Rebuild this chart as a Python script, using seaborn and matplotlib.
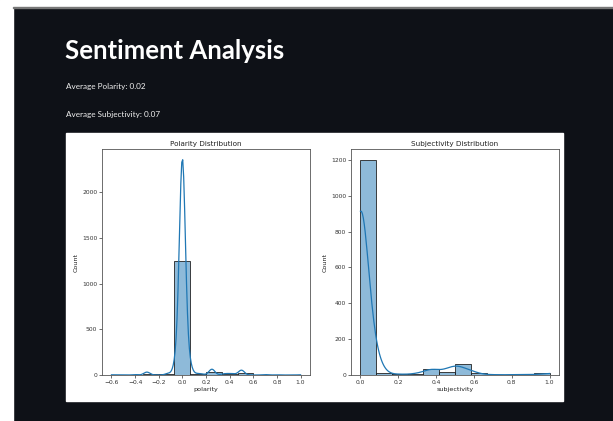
import numpy as np
import pandas as pd
import matplotlib
matplotlib.use("Agg")
import matplotlib.pyplot as plt
from matplotlib.patches import Rectangle
import seaborn as sns

# ---- data (distinct score values and how many rows have them) ----
polarity_values = [-0.6, -0.4, -0.3, -0.12, -0.05, 0.0, 0.05, 0.08, 0.12, 0.16,
                   0.25, 0.35, 0.39, 0.43, 0.5, 0.7, 0.8, 1.0]
polarity_counts = [1, 2, 15, 8, 73, 1100, 70, 5, 5, 5,
                   30, 5, 5, 5, 25, 2, 1, 1]

subjectivity_values = [0.0, 0.05, 0.075, 0.1, 0.2, 0.3, 0.375, 0.45, 0.5, 0.55, 0.6,
                       0.7, 0.8, 0.9, 1.0]
subjectivity_counts = [1065, 70, 65, 10, 5, 8, 33, 18, 40, 23, 12,
                       2, 2, 3, 10]

title_text = "Sentiment Analysis"
avg_polarity_text = "Average Polarity: 0.02"
avg_subjectivity_text = "Average Subjectivity: 0.07"

polarity = pd.Series(np.repeat(polarity_values, polarity_counts), name="polarity")
subjectivity = pd.Series(np.repeat(subjectivity_values, subjectivity_counts), name="subjectivity")

W, H = 613, 421
BG = "#0e1117"
fig = plt.figure(figsize=(W / 100, H / 100), dpi=100, facecolor=BG)

def fx(px):
    return px / W

def fy(py):
    return 1 - py / H

# white screenshot margins
fig.patches.append(Rectangle((0, 0), fx(13), 1, transform=fig.transFigure, color="white", zorder=-5))
fig.patches.append(Rectangle((0, fy(7)), 1, 7 / H, transform=fig.transFigure, color="white", zorder=-5))
fig.patches.append(Rectangle((fx(13), fy(8)), 1, 1.2 / H, transform=fig.transFigure, color="#777777", zorder=-5))

# embedded figure panel
fig.patches.append(Rectangle((fx(66), fy(401)), fx(563) - fx(66), (401 - 133) / H,
                             transform=fig.transFigure, color="white", zorder=-5))

title_fam = ["Lato", "DejaVu Sans"]
fig.text(fx(65), fy(59), title_text, color="white", fontsize=18.5, fontweight="bold",
         family=title_fam, va="baseline", ha="left")
fig.text(fx(66), fy(89), avg_polarity_text, color="#f0f0f0", fontsize=5.9,
         family=title_fam, va="baseline", ha="left")
fig.text(fx(66), fy(117), avg_subjectivity_text, color="#f0f0f0", fontsize=5.9,
         family=title_fam, va="baseline", ha="left")

ax1 = fig.add_axes([fx(102), fy(375), fx(310) - fx(102), (375 - 149) / H])
ax2 = fig.add_axes([fx(351), fy(375), fx(559) - fx(351), (375 - 149) / H])

sns.histplot(polarity, bins=12, kde=True, ax=ax1, edgecolor="#222222", linewidth=0.6)
sns.histplot(subjectivity, bins=12, kde=True, ax=ax2, edgecolor="#222222", linewidth=0.6)

for ax, t in [(ax1, "Polarity Distribution"), (ax2, "Subjectivity Distribution")]:
    ax.set_facecolor("white")
    ax.set_title(t, fontsize=5.2, color="#222222", pad=2.5)
    ax.set_ylabel("Count", fontsize=4.6, color="#222222", labelpad=2)
    ax.xaxis.label.set_size(4.6)
    ax.xaxis.label.set_color("#222222")
    ax.xaxis.labelpad = 1.5
    ax.tick_params(labelsize=4.3, length=2, width=0.5, pad=1.5, colors="#333333")
    for s in ax.spines.values():
        s.set_linewidth(0.6)
        s.set_color("#555555")
    for line in ax.lines:
        line.set_linewidth(0.9)

ax1.set_xticks([-0.6, -0.4, -0.2, 0.0, 0.2, 0.4, 0.6, 0.8, 1.0])

fig.savefig("out.png", dpi=100, facecolor=BG)
